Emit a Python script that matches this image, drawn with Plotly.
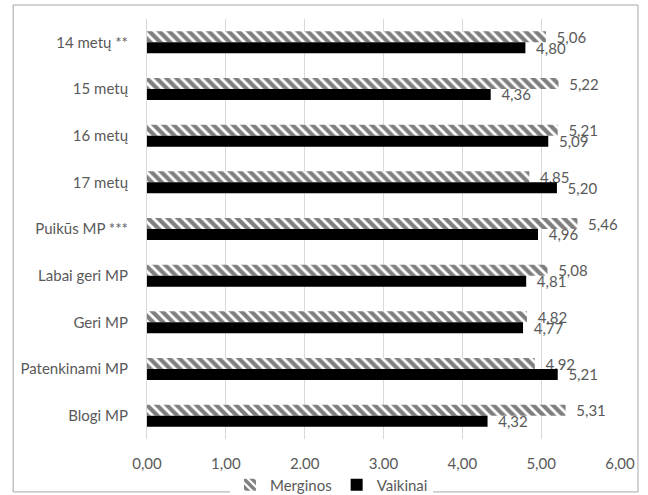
import plotly.graph_objects as go

categories = ["14 metų **", "15 metų", "16 metų", "17 metų", "Puikūs MP ***",
              "Labai geri MP", "Geri MP", "Patenkinami MP", "Blogi MP"]
merginos = [5.06, 5.22, 5.21, 4.85, 5.46, 5.08, 4.82, 4.92, 5.31]
vaikinai = [4.80, 4.36, 5.09, 5.20, 4.96, 4.81, 4.77, 5.21, 4.32]
x_ticks = [0, 1, 2, 3, 4, 5, 6]

FONT = "Lato"
GRAY_TXT = "#595959"
FS = 15

fig = go.Figure()
fig.add_trace(go.Bar(
    y=categories, x=merginos, orientation="h", name="Merginos",
    marker=dict(color="white", line=dict(width=0),
                pattern=dict(shape="\\", fgcolor="black", bgcolor="white",
                             size=7, solidity=0.6, fillmode="overlay")),
    texttemplate="  %{x:.2f}", textposition="outside", cliponaxis=False,
    textfont=dict(color=GRAY_TXT, size=FS, family=FONT),
))
fig.add_trace(go.Bar(
    y=categories, x=vaikinai, orientation="h", name="Vaikinai",
    marker=dict(color="black", line=dict(width=0)),
    texttemplate="  %{x:.2f}", textposition="outside", cliponaxis=False,
    textfont=dict(color=GRAY_TXT, size=FS, family=FONT),
))

fig.update_layout(
    width=648, height=495,
    margin=dict(l=147, r=28, t=19, b=56),
    barmode="group", bargap=0.53, bargroupgap=0,
    separators=", ",
    paper_bgcolor="white", plot_bgcolor="white",
    font=dict(family=FONT, size=FS, color=GRAY_TXT),
    legend=dict(orientation="h", x=0.39, xanchor="center",
                yref="container", y=0.02, yanchor="middle",
                font=dict(size=FS, color=GRAY_TXT), traceorder="normal",
                itemwidth=30),
    shapes=[dict(type="rect", xref="paper", yref="paper",
                 x0=-0.283, x1=1.038, y0=-0.126, y1=1.0333,
                 line=dict(color="#a6a6a6", width=1), fillcolor="rgba(0,0,0,0)", layer="below")],
)
fig.update_traces(constraintext="none")
fig.update_xaxes(range=[0, 6], tickvals=x_ticks, tickformat=".2f",
                 showgrid=True, gridcolor="#d9d9d9", gridwidth=1,
                 zeroline=False, showline=False, ticks="", ticklabelstandoff=14,
                 automargin=False,
                 tickfont=dict(size=FS, color=GRAY_TXT, family=FONT))
fig.update_yaxes(autorange="reversed", showgrid=False, zeroline=False,
                 showline=True, linecolor="#d9d9d9", linewidth=1, ticks="",
                 ticklabelstandoff=15, automargin=False,
                 tickfont=dict(size=FS, color=GRAY_TXT, family=FONT))

fig.write_html("out.html")
